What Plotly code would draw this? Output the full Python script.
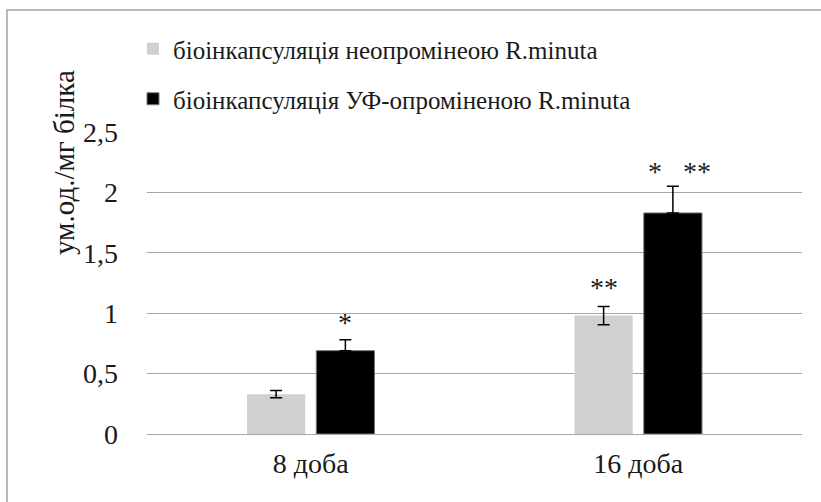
import plotly.graph_objects as go

categories = ["8 доба", "16 доба"]
series_names = ["біоінкапсуляція неопромінеою R.minuta",
                "біоінкапсуляція УФ-опроміненою R.minuta"]
values_gray = [0.33, 0.98]
err_gray = [0.03, 0.075]
values_black = [0.69, 1.83]
err_black = [0.09, 0.22]
marks_gray = ["", "**"]
marks_black = ["*", "*   **"]
y_ticks = [0, 0.5, 1, 1.5, 2, 2.5]
y_title = "ум.од./мг білка"

FONT = "Times New Roman"
FS_TICK = 28
FS_LEG = 25
FS_TITLE = 29
TXT = "#1a1a1a"
W, H = 821, 502
ML, MR, MT, MB = 7, 6, 10, 68
PW, PH = W - ML - MR, H - MT - MB


def px_x(px):
    return (px - ML) / PW


def px_y(py):
    return (H - MB - py) / PH


fig = go.Figure()
fig.add_trace(go.Bar(
    x=categories, y=values_gray, name=series_names[0],
    marker=dict(color="#d0d0d0", line=dict(width=0)),
    error_y=dict(type="data", array=err_gray, color="black", thickness=1.5, width=6),
    legend="legend",
))
fig.add_trace(go.Bar(
    x=categories, y=values_black, name=series_names[1],
    marker=dict(color="#000000", line=dict(color="#777777", width=1)),
    error_y=dict(type="data", symmetric=False, array=err_black,
                 arrayminus=[0, 0], color="black", thickness=1.5, width=6),
    legend="legend2",
))

annotations = []
for i, c in enumerate(categories):
    if marks_gray[i]:
        annotations.append(dict(x=c, y=values_gray[i] + err_gray[i], xref="x", yref="y",
                                text=marks_gray[i], showarrow=False, xshift=-34,
                                yanchor="bottom", yshift=2,
                                font=dict(family=FONT, size=FS_TICK, color=TXT)))
    if marks_black[i]:
        annotations.append(dict(x=c, y=values_black[i] + err_black[i], xref="x", yref="y",
                                text=marks_black[i], showarrow=False, xshift=34 + 7 * i,
                                yanchor="bottom", yshift=0 - 3 * i,
                                font=dict(family=FONT, size=FS_TICK, color=TXT)))
annotations.append(dict(x=px_x(64), y=px_y(162), xref="paper", yref="paper",
                        text=y_title, textangle=-90, showarrow=False,
                        xanchor="center", yanchor="middle",
                        font=dict(family=FONT, size=FS_TITLE, color=TXT)))

legend_common = dict(xanchor="left", yanchor="middle", bgcolor="rgba(0,0,0,0)",
                     itemwidth=30, font=dict(family=FONT, size=FS_LEG, color=TXT))

fig.update_layout(
    width=W, height=H,
    margin=dict(l=ML, r=MR, t=MT, b=MB, autoexpand=False),
    paper_bgcolor="white", plot_bgcolor="white",
    separators=", ",
    font=dict(family=FONT, size=FS_TICK, color=TXT),
    barmode="group", bargap=0.577, bargroupgap=0.16,
    showlegend=True,
    legend=dict(x=px_x(133), y=px_y(49), **legend_common),
    legend2=dict(x=px_x(133), y=px_y(99), **legend_common),
    xaxis=dict(domain=[px_x(147), px_x(802)], showline=False, ticks="", showgrid=False,
               automargin=False, ticklabelstandoff=10,
               tickfont=dict(family=FONT, size=FS_TICK, color=TXT)),
    yaxis=dict(domain=[0, px_y(132)], range=[0, 2.5], tickvals=y_ticks, showgrid=True,
               gridcolor="#a6a6a6", gridwidth=1, zeroline=True,
               zerolinecolor="#a6a6a6", zerolinewidth=1, showline=False,
               ticks="", ticklen=0, automargin=False, ticklabelstandoff=28,
               tickfont=dict(family=FONT, size=FS_TICK, color=TXT)),
    annotations=annotations,
    shapes=[dict(type="rect", xref="paper", yref="paper",
                 x0=px_x(7), x1=px_x(830), y0=px_y(510), y1=px_y(10),
                 line=dict(color="#a0a0a0", width=1.5), layer="below")],
)

fig.write_html("out.html", config={"displayModeBar": False},
               post_script="document.body.style.margin='0';document.body.style.padding='0';")
